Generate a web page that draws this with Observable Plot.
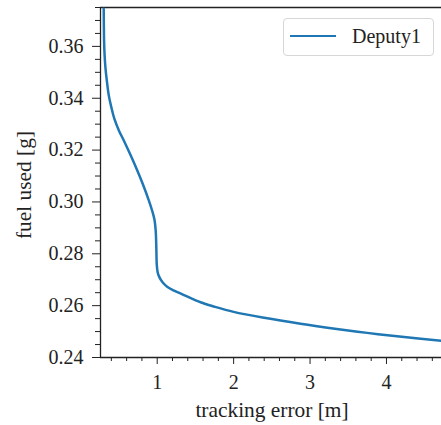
<!DOCTYPE html>
<html>
<head>
<meta charset="utf-8">
<script src="https://cdn.jsdelivr.net/npm/d3@7"></script>
<script src="https://cdn.jsdelivr.net/npm/@observablehq/plot@0.6"></script>
<style>
  html, body { margin: 0; padding: 0; background: #fff; }
  #wrap { position: relative; width: 441px; height: 425px; overflow: hidden; }
  #legend {
    position: absolute; left: 283px; top: 18px; width: 151px; height: 38px;
    box-sizing: border-box; border: 1px solid #d6d6d6; border-radius: 4px;
    background: rgba(255,255,255,0.8);
    font-family: "Liberation Serif", "Times New Roman", serif;
    font-size: 20px; color: #222;
  }
  #legend .sw { position: absolute; left: 6px; top: 16px; width: 46px; height: 0; border-top: 2.5px solid #1f77b4; }
  #legend .lb { position: absolute; left: 68px; top: 5px; line-height: 24px; }
</style>
</head>
<body>
<div id="wrap"></div>
<script>
// tracking error [m]
const trackingError = [0.300, 0.302, 0.305, 0.311, 0.322, 0.340, 0.367, 0.400, 0.440, 0.500, 0.563, 0.660, 0.738, 0.810, 0.890, 0.935, 0.965, 0.980, 0.987, 0.990, 0.994, 1.005, 1.025, 1.070, 1.130, 1.213, 1.350, 1.567, 1.750, 2.000, 2.400, 2.875, 3.300, 3.748, 4.200, 4.720];
// fuel used [g]
const fuelUsed = [0.3745, 0.3680, 0.3620, 0.3570, 0.3520, 0.3470, 0.3410, 0.3365, 0.3320, 0.3275, 0.3237, 0.3175, 0.3122, 0.3070, 0.3006, 0.2965, 0.2930, 0.2890, 0.2840, 0.2800, 0.2760, 0.2730, 0.2712, 0.2690, 0.2673, 0.2659, 0.2641, 0.2613, 0.2596, 0.2576, 0.2553, 0.2530, 0.2512, 0.2495, 0.2480, 0.2464];
const seriesName = "Deputy1";
const xTicks = [1, 2, 3, 4];
const yTicks = [0.24, 0.26, 0.28, 0.30, 0.32, 0.34, 0.36];
const xMinor = d3.range(0.4, 4.72, 0.2).filter(v => Math.abs(v - Math.round(v)) > 1e-6);
const yMinor = d3.range(0.245, 0.3751, 0.005).filter(v => Math.abs(v * 50 - Math.round(v * 50)) > 1e-6);

const data = trackingError.map((x, i) => ({x, y: fuelUsed[i]}));
const xDomain = [0.258, 4.72];
const yDomain = [0.24, 0.375];
const font = "\"Liberation Serif\", \"Times New Roman\", serif";

const chart = Plot.plot({
  width: 441,
  height: 425,
  marginLeft: 100,
  marginRight: 0,
  marginTop: 7,
  marginBottom: 68,
  style: {fontFamily: font, fontSize: "20px", color: "#222", background: "#fff"},
  x: {domain: xDomain},
  y: {domain: yDomain},
  marks: [
    Plot.axisX(xTicks, {tickSize: 7, tickPadding: 10, tickFormat: d => String(d), label: null, stroke: "#222", fontSize: 20}),
    Plot.axisX(xMinor, {tickSize: 4, text: null, label: null, stroke: "#222"}),
    Plot.axisY(yTicks, {tickSize: 8, tickPadding: 9, tickFormat: d3.format(".2f"), label: null, stroke: "#222", fontSize: 20}),
    Plot.axisY(yMinor, {tickSize: 5, text: null, label: null, stroke: "#222"}),
    Plot.ruleX([xDomain[0]], {stroke: "#222", strokeWidth: 1.3}),
    Plot.ruleY([yDomain[0]], {stroke: "#222", strokeWidth: 1.3}),
    Plot.ruleY([yDomain[1]], {stroke: "#222", strokeWidth: 1.3}),
    Plot.line(data, {x: "x", y: "y", stroke: "#1f77b4", strokeWidth: 2.5, curve: "catmull-rom"}),
    Plot.text(["tracking error [m]"], {frameAnchor: "bottom", textAnchor: "middle", lineAnchor: "middle", dx: 1, dy: 53, fontSize: 21.4, fill: "#222"}),
    Plot.text(["fuel used [g]"], {frameAnchor: "left", textAnchor: "middle", lineAnchor: "middle", rotate: -90, dx: -76, dy: 2.5, fontSize: 21.4, fill: "#222"})
  ]
});

const wrap = document.getElementById("wrap");
wrap.appendChild(chart);
const legend = document.createElement("div");
legend.id = "legend";
legend.innerHTML = `<div class="sw"></div><div class="lb"></div>`;
legend.querySelector(".lb").textContent = seriesName;
wrap.appendChild(legend);
</script>
</body>
</html>
